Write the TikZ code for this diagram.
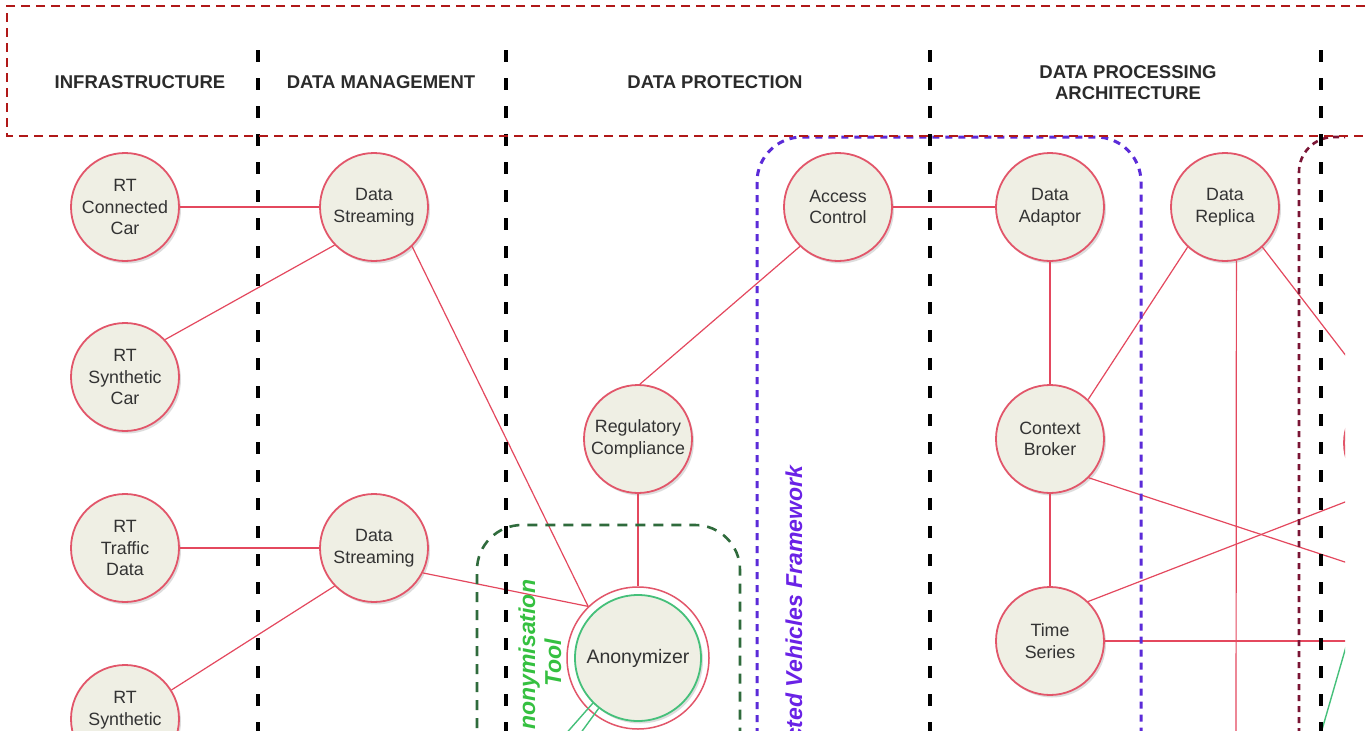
\documentclass[tikz,border=0pt]{standalone}
\usepackage{fontspec}
\setmainfont{Liberation Sans}
\usetikzlibrary{shadows}
\definecolor{nodefill}{HTML}{EFEFE4}
\definecolor{nodeline}{HTML}{E2566A}
\definecolor{conn}{HTML}{E4485E}
\definecolor{bandred}{HTML}{B01818}
\definecolor{purp}{HTML}{5B2BD8}
\definecolor{purptxt}{HTML}{6A22E6}
\definecolor{grnbox}{HTML}{2F6B3C}
\definecolor{grntxt}{HTML}{35C040}
\definecolor{maroonbox}{HTML}{7A1434}
\definecolor{grnline}{HTML}{45C07A}
\definecolor{txt}{HTML}{333333}
\begin{document}
\begin{tikzpicture}[x=1pt,y=-1pt,
  comp/.style={circle, draw=nodeline, line width=1.8pt, fill=nodefill, minimum size=108pt,
    inner sep=0pt, align=center, text=txt, font=\fontsize{17.8}{21.5}\selectfont,
    drop shadow={shadow xshift=2pt, shadow yshift=-2.5pt, opacity=0.22, fill=black!60}},
  link/.style={draw=conn, line width=1.2pt},
  glink/.style={draw=grnline, line width=1.4pt},
  lane/.style={draw=black, line width=3.4pt, dash pattern=on 12pt off 16pt},
  head/.style={font=\fontsize{18.5}{21}\selectfont\bfseries, text=txt!85!black, align=center},
  grouplabel/.style={rotate=90, font=\fontsize{23}{26}\selectfont\bfseries\itshape, align=center}
]
\useasboundingbox (0,0) rectangle (1369,731);
\fill[white] (0,0) rectangle (1369,731);

\begin{scope}
\clip (0,0) rectangle (1345,731);

% nodes
\node[comp] (rtcc) at (125,207) {RT\\Connected\\Car};
\node[comp] (rtsc) at (125,377) {RT\\Synthetic\\Car};
\node[comp] (rttd) at (125,548) {RT\\Traffic\\Data};
\node[comp] (rts2) at (125,719) {RT\\Synthetic\\\phantom{Car}};
\node[comp] (ds1) at (374,207) {Data\\Streaming};
\node[comp] (ds2) at (374,548) {Data\\Streaming};
\node[comp] (reg) at (638,439) {Regulatory\\Compliance};
\node[circle, draw=nodeline, line width=1.5pt, fill=white, minimum size=142pt, inner sep=0pt] (anon) at (638,658) {};
\node[comp, draw=grnline, line width=1.8pt, minimum size=126pt, font=\fontsize{19.5}{22}\selectfont] (anoni) at (638,658) {Anonymizer};
\node[comp] (ac) at (838,207) {Access\\Control};
\node[comp] (da) at (1050,207) {Data\\Adaptor};
\node[comp] (dr) at (1225,207) {Data\\Replica};
\node[comp] (cb) at (1050,439) {Context\\Broker};
\node[comp] (ts) at (1050,641) {Time\\Series};
\node[comp] (rn) at (1398,443) {};

% free ends
\coordinate (drdown) at (1236,760);
\coordinate (cbout) at (1500,613);
\coordinate (tsup) at (1500,442);
\coordinate (tsright) at (1500,641);
\coordinate (g1) at (1352,626);
\coordinate (g2) at (1317,747);
\coordinate (ga1) at (556,745);
\coordinate (ga2) at (572,745);

% connectors
\draw[link] (rtcc) -- (ds1);
\draw[link] (rtsc.43) -- (ds1.224);
\draw[link] (ds1.314) -- (anon.134);
\draw[link] (rttd) -- (ds2);
\draw[link] (rts2.32) -- (ds2.224);
\draw[link] (ds2.333) -- (anon.134);
\draw[link] (reg.88) -- (ac.226);
\draw[link] (reg) -- (anon);
\draw[link] (ac) -- (da);
\draw[link] (da) -- (cb);
\draw[link] (cb) -- (ts);
\draw[link] (cb.46) -- (dr.227);
\draw[link] (dr.-78) -- (drdown);
\draw[link] (dr.313) -- (rn.115);
\draw[link] (cb.-45) -- (cbout);
\draw[link] (ts.46) -- (tsup);
\draw[link] (ts) -- (tsright);
\draw[glink] (g1) -- (g2);
\draw[glink] (anoni.225) -- (ga1);
\draw[glink] (anoni.232) -- (ga2);

% group boxes
\draw[purp, line width=3pt, dash pattern=on 7pt off 6pt, rounded corners=45pt]
  (757,800) -- (757,137) -- (1141,137) -- (1141,800);
\draw[grnbox, line width=2.6pt, dash pattern=on 10pt off 8pt, rounded corners=45pt]
  (477,800) -- (477,525) -- (740,525) -- (740,800);
\draw[maroonbox, line width=2.6pt, dash pattern=on 6pt off 5pt, rounded corners=35pt]
  (1299,800) -- (1299,137) -- (1450,137);

\node[grouplabel, anchor=east, text=purptxt] (cvf) at (794,462) {Connected Vehicles Framework};
\node[grouplabel, text=grntxt] (anonlbl) at (540,663) {Anonymisation\\Tool};

% lanes
\draw[lane] (258,50) -- (258,760);
\draw[lane] (506,50) -- (506,760);
\draw[lane] (930,50) -- (930,760);
\draw[lane] (1321,50) -- (1321,760);
\end{scope}

% headers
\node[head] (h1) at (140,82) {INFRASTRUCTURE};
\node[head] (h2) at (381,82) {DATA MANAGEMENT};
\node[head] (h3) at (715,82) {DATA PROTECTION};
\node[head] (h4) at (1128,82.5) {DATA PROCESSING\\ARCHITECTURE};

% top band
\begin{scope}
\clip (0,0) rectangle (1369,731);
\draw[bandred, line width=1.6pt, dash pattern=on 9pt off 6pt]
  (1380,6) -- (7,6) -- (7,136) -- (1380,136);
\end{scope}
\end{tikzpicture}
\end{document}
